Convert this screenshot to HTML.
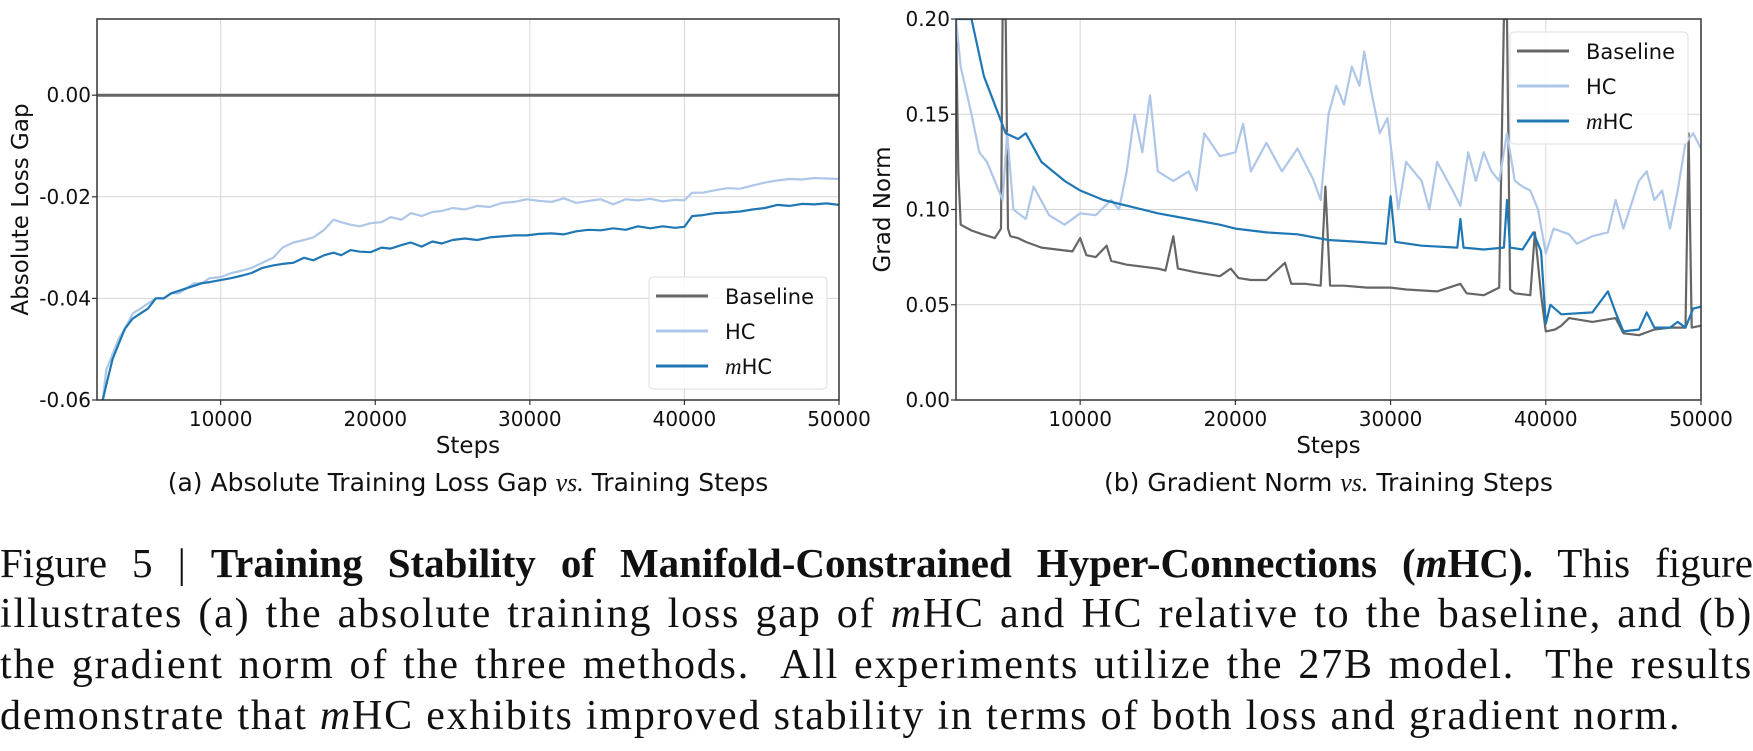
<!DOCTYPE html>
<html><head><meta charset="utf-8"><style>
html,body{margin:0;padding:0;background:#fff;width:1753px;height:751px;overflow:hidden}
svg text{font-family:"DejaVu Sans","Liberation Sans",sans-serif}
.cap{position:absolute;left:0;width:1753px;font-family:"Liberation Serif",serif;font-size:42px;letter-spacing:1.8px;line-height:51px;color:#111}
.cap div{text-align:justify;text-align-last:justify;white-space:nowrap}
</style></head><body>
<svg id="fig" width="1753" height="751" style="position:absolute;left:0;top:0"></svg>
<div class="cap" style="top:538px">
<div style="letter-spacing:0;font-size:41px">Figure 5 | <b>Training Stability of Manifold-Constrained Hyper-Connections (<i>m</i>HC).</b> This figure</div>
<div>illustrates (a) the absolute training loss gap of <i>m</i>HC and HC relative to the baseline, and (b)</div>
<div>the gradient norm of the three methods. &nbsp;All experiments utilize the 27B model. &nbsp;The results</div>
<div style="text-align-last:left;text-align:left">demonstrate that <i>m</i>HC exhibits improved stability in terms of both loss and gradient norm.</div>
</div>
<script>
// ---- Chart (a) data ----
const lossSteps=[2300,2600,3000,3400,3800,4300,4800,5300,5800,6300,6800,7300,7800,8300,8800,9300,10000,10700,11400,12000,12700,13400,14000,14700,15400,16000,16700,17300,17800,18400,19000,19700,20400,21000,21700,22300,23000,23700,24300,25000,25800,26600,27400,28200,29000,29800,30600,31400,32200,33000,33800,34600,35400,36200,37000,37800,38600,39400,40000,40500,41200,42000,42800,43600,44400,45200,46000,46800,47600,48400,49200,50000];
const hcLoss=[-0.062,-0.054,-0.051,-0.048,-0.046,-0.043,-0.042,-0.041,-0.040,-0.040,-0.039,-0.039,-0.038,-0.037,-0.037,-0.036,-0.0358,-0.035,-0.0345,-0.034,-0.033,-0.032,-0.030,-0.029,-0.0285,-0.028,-0.0265,-0.0245,-0.025,-0.0255,-0.0258,-0.0252,-0.025,-0.024,-0.0245,-0.0232,-0.0238,-0.023,-0.0228,-0.0222,-0.0225,-0.0218,-0.022,-0.0212,-0.021,-0.0205,-0.0208,-0.021,-0.0203,-0.0212,-0.0208,-0.0205,-0.0215,-0.0205,-0.0207,-0.0204,-0.0209,-0.0206,-0.0207,-0.0192,-0.0192,-0.0187,-0.0183,-0.0184,-0.0178,-0.0172,-0.0168,-0.0165,-0.0166,-0.0163,-0.0164,-0.0165];
const mhcLoss=[-0.061,-0.057,-0.052,-0.049,-0.046,-0.044,-0.043,-0.042,-0.040,-0.040,-0.039,-0.0385,-0.038,-0.0375,-0.037,-0.0368,-0.0364,-0.036,-0.0355,-0.035,-0.034,-0.0335,-0.0332,-0.033,-0.032,-0.0325,-0.0315,-0.031,-0.0315,-0.0305,-0.0308,-0.0309,-0.030,-0.0302,-0.0295,-0.029,-0.0298,-0.0288,-0.0292,-0.0285,-0.0282,-0.0285,-0.028,-0.0278,-0.0276,-0.0276,-0.0273,-0.0272,-0.0274,-0.0268,-0.0265,-0.0266,-0.0262,-0.0265,-0.0258,-0.0262,-0.0258,-0.0261,-0.0259,-0.0238,-0.0236,-0.0232,-0.0231,-0.0229,-0.0225,-0.0222,-0.0216,-0.0218,-0.0214,-0.0215,-0.0213,-0.0216];
const lossTicks=[-0.06,-0.04,-0.02,0.00];
const lossTickLabels=["-0.06","-0.04","-0.02","0.00"];
// ---- Chart (b) data ----
const gBaseSteps=[2000,2150,2300,3000,3700,4500,4900,5000,5200,5350,5500,6000,6500,7500,8500,9500,10000,10400,11000,11700,12000,13000,14000,15000,15500,16000,16300,17500,19000,19700,20200,21000,22000,23200,23600,24500,25500,25800,26100,27000,28500,30000,31000,33000,34500,34900,36000,37000,37300,37500,37700,38000,39000,39300,39700,40000,40600,41000,41500,43000,44500,45000,46000,47000,48000,49000,49200,49400,50000];
const gBase=[0.2,0.12,0.092,0.089,0.087,0.085,0.09,0.2,0.2,0.09,0.086,0.085,0.083,0.08,0.079,0.078,0.085,0.076,0.075,0.081,0.073,0.071,0.07,0.069,0.068,0.086,0.069,0.067,0.065,0.069,0.064,0.063,0.063,0.072,0.061,0.061,0.06,0.112,0.06,0.06,0.059,0.059,0.058,0.057,0.061,0.056,0.055,0.059,0.2,0.2,0.058,0.056,0.055,0.088,0.055,0.036,0.037,0.039,0.043,0.041,0.043,0.035,0.034,0.037,0.038,0.038,0.14,0.038,0.039];
const gHCSteps=[2000,2300,3000,3500,4000,4500,5000,5300,5700,6500,7000,8000,9000,10000,11000,12000,12500,13000,13500,14000,14500,15000,16000,17000,17500,18000,19000,20000,20500,21000,22000,23000,24000,25000,25500,26000,26500,27000,27500,28000,28300,28800,29300,29800,30500,31000,32000,32500,33000,34000,34500,35000,35500,36000,36500,37000,37500,38000,38500,39000,39500,40000,40500,41500,42000,43000,44000,44500,45000,46000,46500,47000,47500,48000,48500,49000,49500,50000];
const gHC=[0.2,0.175,0.15,0.13,0.125,0.115,0.105,0.14,0.1,0.095,0.112,0.097,0.092,0.098,0.097,0.105,0.1,0.12,0.15,0.13,0.16,0.12,0.115,0.12,0.11,0.14,0.128,0.13,0.145,0.12,0.135,0.12,0.132,0.116,0.105,0.15,0.165,0.155,0.175,0.165,0.183,0.16,0.14,0.148,0.1,0.125,0.115,0.1,0.125,0.11,0.102,0.13,0.115,0.13,0.12,0.115,0.14,0.115,0.112,0.11,0.1,0.077,0.09,0.087,0.082,0.086,0.088,0.105,0.09,0.115,0.12,0.105,0.11,0.09,0.11,0.135,0.14,0.132];
const gMHCSteps=[2000,3000,3800,4500,5200,6000,6500,7500,9000,10000,11500,13500,15000,17000,19000,20000,22000,24000,26000,28000,29700,30000,30300,32000,34300,34500,34700,36000,37300,37500,37700,38500,39200,39700,40000,40300,41000,43000,44000,44500,45000,46000,46500,47000,48000,48500,49000,49500,50000];
const gMHC=[0.2,0.2,0.17,0.155,0.14,0.137,0.14,0.125,0.115,0.11,0.105,0.101,0.098,0.095,0.092,0.09,0.088,0.087,0.084,0.083,0.082,0.107,0.083,0.081,0.08,0.095,0.08,0.079,0.08,0.105,0.08,0.079,0.088,0.078,0.04,0.05,0.045,0.046,0.057,0.046,0.036,0.037,0.046,0.038,0.038,0.041,0.038,0.048,0.049];
const gTicks=[0,0.05,0.10,0.15,0.20];
const gTickLabels=["0.00","0.05","0.10","0.15","0.20"];
const xTicks=[10000,20000,30000,40000,50000];
const xTickLabels=["10000","20000","30000","40000","50000"];

const NS="http://www.w3.org/2000/svg";
const svg=document.getElementById('fig');
function mk(tag,attrs,parent){const e=document.createElementNS(NS,tag);for(const k in attrs)e.setAttribute(k,attrs[k]);(parent||svg).appendChild(e);return e;}

function chart(cfg){
  const g=mk('g',{});
  
  
  const X=v=>cfg.x0+(v-2000)/(50000-2000)*(cfg.x1-cfg.x0);
  const Y=v=>cfg.y1-(v-cfg.ymin)/(cfg.ymax-cfg.ymin)*(cfg.y1-cfg.y0);
  const defs=mk('defs',{},g);
  const cp=mk('clipPath',{id:cfg.name+'-clip'},defs);
  mk('rect',{x:cfg.x0,y:cfg.y0,width:cfg.x1-cfg.x0,height:cfg.y1-cfg.y0},cp);
  xTicks.forEach((t,i)=>{
    const l=mk('line',{x1:X(t),x2:X(t),y1:cfg.y0,y2:cfg.y1,stroke:'#d6d6d6','stroke-width':1},g);
    
    
    mk('line',{x1:X(t),x2:X(t),y1:cfg.y1,y2:cfg.y1+5,stroke:'#333','stroke-width':1.2},g);
    const tx=mk('text',{x:X(t),y:cfg.y1+26,'text-anchor':'middle','font-size':20,fill:'#111'},g);
    tx.textContent=xTickLabels[i];
    
    
  });
  cfg.yt.forEach((t,i)=>{
    const l=mk('line',{x1:cfg.x0,x2:cfg.x1,y1:Y(t),y2:Y(t),stroke:'#d6d6d6','stroke-width':1},g);
    
    
    mk('line',{x1:cfg.x0-5,x2:cfg.x0,y1:Y(t),y2:Y(t),stroke:'#333','stroke-width':1.2},g);
    const tx=mk('text',{x:cfg.x0-6,y:Y(t)+7,'text-anchor':'end','font-size':20,fill:'#111'},g);
    tx.textContent=cfg.yl[i];
    
    
  });
  const lines=mk('g',{'clip-path':'url(#'+cfg.name+'-clip)'},g);
  cfg.series.forEach(s=>{
    const d=s.xs.map((x,i)=>(i?'L':'M')+X(x).toFixed(1)+','+Y(s.ys[i]).toFixed(1)).join('');
    const p=mk('path',{d:d,fill:'none',stroke:s.color,'stroke-width':s.w||2.2,'stroke-linejoin':'round'},lines);
    
    
  });
  const fr=mk('rect',{x:cfg.x0,y:cfg.y0,width:cfg.x1-cfg.x0,height:cfg.y1-cfg.y0,fill:'none',stroke:'#333','stroke-width':1.5},g);
  
  
  const xl=mk('text',{x:(cfg.x0+cfg.x1)/2,y:cfg.y1+53,'text-anchor':'middle','font-size':23,fill:'#111'},g);
  xl.textContent='Steps';
  
  
  const yl=mk('text',{x:0,y:0,'text-anchor':'middle','font-size':23,fill:'#111',transform:`translate(${cfg.ylx},${(cfg.y0+cfg.y1)/2}) rotate(-90)`},g);
  yl.textContent=cfg.ytitle;
  
  
  const lg=mk('g',{},g);
  
  
  mk('rect',{x:cfg.lx,y:cfg.ly,width:178,height:112,rx:4,fill:'#fff','fill-opacity':0.85,stroke:'#ddd','stroke-width':1},lg);
  const labs=['Baseline','HC','mHC'];
  cfg.series.forEach((s,i)=>{
    const yy=cfg.ly+19+i*35;
    mk('line',{x1:cfg.lx+7,x2:cfg.lx+59,y1:yy,y2:yy,stroke:s.color,'stroke-width':3},lg);
    const t=mk('text',{x:cfg.lx+76,y:yy+8,'font-size':21,fill:'#111'},lg);
    if(i==2){const ts=mk('tspan',{'font-family':'Liberation Serif,serif','font-style':'italic','font-size':23},t);ts.textContent='m';const t2=mk('tspan',{},t);t2.textContent='HC';}
    else t.textContent=labs[i];
    
    
  });
  const sc=mk('text',{x:(cfg.x0+cfg.x1)/2,y:cfg.y1+91,'text-anchor':'middle','font-size':25,fill:'#111'},g);
  
  
  const a=mk('tspan',{},sc);a.textContent=cfg.cap1+' ';
  const b=mk('tspan',{'font-family':'Liberation Serif,serif','font-style':'italic','font-size':26},sc);b.textContent='vs.';
  const c=mk('tspan',{},sc);c.textContent='  Training Steps';
}
chart({name:'loss-gap-chart',x0:97,x1:839,y0:19,y1:400,ymin:-0.06,ymax:0.015,yt:lossTicks,yl:lossTickLabels,ylx:28,
  ytitle:'Absolute Loss Gap',lx:649,ly:277,cap1:'(a) Absolute Training Loss Gap',
  series:[{id:'baseline-line',xs:[2000,50000],ys:[0,0],color:'#666',w:3},
          {id:'hc-line',xs:lossSteps,ys:hcLoss,color:'#aec7e8'},
          {id:'mhc-line',xs:lossSteps,ys:mhcLoss,color:'#1f77b4'}]});
chart({name:'grad-norm-chart',x0:956,x1:1701,y0:19,y1:400,ymin:0,ymax:0.2,yt:gTicks,yl:gTickLabels,ylx:890,
  ytitle:'Grad Norm',lx:1510,ly:32,cap1:'(b) Gradient Norm',
  series:[{id:'baseline-line',xs:gBaseSteps,ys:gBase,color:'#666'},
          {id:'hc-line',xs:gHCSteps,ys:gHC,color:'#aec7e8'},
          {id:'mhc-line',xs:gMHCSteps,ys:gMHC,color:'#1f77b4'}]});
</script>
</body></html>
